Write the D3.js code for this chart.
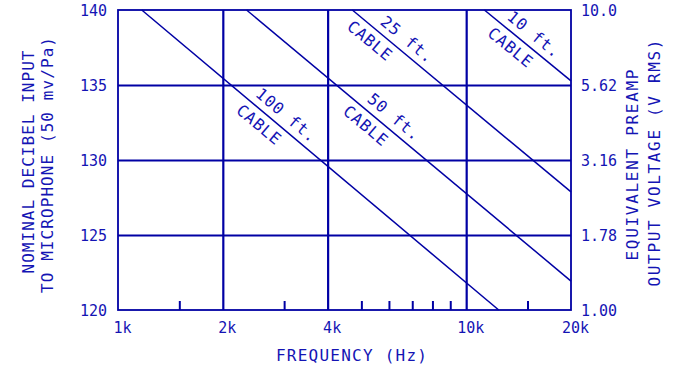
<!DOCTYPE html>
<html>
<head>
<meta charset="utf-8">
<script src="https://cdn.jsdelivr.net/npm/d3@7/dist/d3.min.js"></script>
<style>
  html, body { margin: 0; padding: 0; background: #fff; }
  svg text { font-family: "DejaVu Sans Mono", monospace; fill: #1414b4; }
</style>
</head>
<body>
<div id="chart"></div>
<script>
// Frequency axis (Hz)
const freqTicks = [1000, 2000, 4000, 10000, 20000];
const freqTickLabels = ["1k", "2k", "4k", "10k", "20k"];
const freqMinorTicks = [1500, 3000, 5000, 6000, 7000, 8000, 9000, 15000];

// Left axis: nominal dB input
const dbTicks = [120, 125, 130, 135, 140];
// Right axis: equivalent preamp output voltage (V RMS)
const voltTicks = [1.00, 1.78, 3.16, 5.62, 10.0];
const voltTickLabels = ["1.00", "1.78", "3.16", "5.62", "10.0"];

// Cable curves: [frequency Hz, dB] end points on a log-frequency grid
const cableNames = ["10 ft.", "25 ft.", "50 ft.", "100 ft."];
const cable10 = [[11280, 140], [20000, 135.27]];
const cable25 = [[4710, 140], [20000, 127.87]];
const cable50 = [[2340, 140], [20000, 121.93]];
const cable100 = [[1170, 140], [12400, 120]];
const cableSeries = [cable10, cable25, cable50, cable100];

// Where each curve's label sits along the curve (Hz): [length label, "CABLE"]
const labelAnchors = [[14870, 14130], [6430, 5580], [5890, 5430], [2890, 2680]];

const W = 679, H = 367;
const m = { left: 118, right: 108, top: 10, bottom: 57 };
const iw = W - m.left - m.right, ih = H - m.top - m.bottom;
const gridColor = "#0000a4", curveColor = "#0000a4", textColor = "#1414b4";

const svg = d3.select("#chart").append("svg")
  .attr("width", W).attr("height", H);
const g = svg.append("g").attr("transform", `translate(${m.left},${m.top})`);

const x = d3.scaleLog().domain([1000, 20000]).range([0, iw]);
const y = d3.scaleLinear().domain([120, 140]).range([ih, 0]);
const yv = d3.scaleLog().domain([1, 10]).range([ih, 0]);

// Grid lines
g.append("g").attr("class", "xgrid")
  .attr("transform", `translate(0,${ih})`)
  .call(d3.axisBottom(x).tickValues(freqTicks.slice(1, -1)).tickSize(-ih).tickFormat(""))
  .call(s => s.select(".domain").remove())
  .call(s => s.selectAll("line").attr("stroke", gridColor).attr("stroke-width", 2.2));
g.append("g").attr("class", "ygrid")
  .call(d3.axisLeft(y).tickValues(dbTicks.slice(1, -1)).tickSize(-iw).tickFormat(""))
  .call(s => s.select(".domain").remove())
  .call(s => s.selectAll("line").attr("stroke", gridColor).attr("stroke-width", 2.2));

// Minor frequency ticks along the bottom edge
g.append("g").attr("class", "xminor")
  .attr("transform", `translate(0,${ih})`)
  .call(d3.axisBottom(x).tickValues(freqMinorTicks).tickSize(-9).tickFormat(""))
  .call(s => s.select(".domain").remove())
  .call(s => s.selectAll("line").attr("stroke", gridColor).attr("stroke-width", 2));

// Frame
g.append("rect").attr("width", iw).attr("height", ih)
  .attr("fill", "none").attr("stroke", gridColor).attr("stroke-width", 1.8);

// Tick labels
g.append("g").attr("class", "xaxis")
  .attr("transform", `translate(0,${ih})`)
  .call(d3.axisBottom(x).tickValues(freqTicks).tickSize(0).tickPadding(0)
    .tickFormat((d, i) => freqTickLabels[i]))
  .call(s => s.select(".domain").remove())
  .call(s => s.selectAll("text").attr("font-size", 15).attr("fill", textColor)
    .attr("font-family", "DejaVu Sans Mono").attr("dy", null).attr("y", 23).attr("dx", 4));

g.append("g").attr("class", "yaxis")
  .call(d3.axisLeft(y).tickValues(dbTicks).tickSize(0).tickPadding(11))
  .call(s => s.select(".domain").remove())
  .call(s => s.selectAll("text").attr("font-size", 15).attr("fill", textColor)
    .attr("font-family", "DejaVu Sans Mono").attr("dy", "0.36em"));

g.append("g").attr("class", "vaxis")
  .attr("transform", `translate(${iw},0)`)
  .call(d3.axisRight(yv).tickValues(voltTicks).tickSize(0).tickPadding(0)
    .tickFormat((d, i) => voltTickLabels[i]))
  .call(s => s.select(".domain").remove())
  .call(s => s.selectAll("text").attr("font-size", 15).attr("fill", textColor)
    .attr("font-family", "DejaVu Sans Mono").attr("text-anchor", "middle")
    .attr("x", 28).attr("dy", "0.36em"));

// Cable curves
const line = d3.line().x(d => x(d[0])).y(d => y(d[1]));
g.append("g").attr("class", "curves")
  .selectAll("path").data(cableSeries).join("path")
  .attr("d", line).attr("fill", "none")
  .attr("stroke", curveColor).attr("stroke-width", 1.5);

// Curve labels, laid along each curve
const labels = g.append("g").attr("class", "curve-labels");
cableSeries.forEach((pts, i) => {
  const x0 = x(pts[0][0]), y0 = y(pts[0][1]);
  const x1 = x(pts[1][0]), y1 = y(pts[1][1]);
  const ang = Math.atan2(y1 - y0, x1 - x0) * 180 / Math.PI;
  const texts = [cableNames[i], "CABLE"];
  labelAnchors[i].forEach((f, k) => {
    const px = x(f);
    const py = y0 + (px - x0) / (x1 - x0) * (y1 - y0);
    labels.append("text")
      .attr("transform", `translate(${px},${py}) rotate(${ang})`)
      .attr("y", k === 0 ? -12.5 : 12.5)
      .attr("dominant-baseline", "central")
      .attr("text-anchor", "middle")
      .attr("font-size", 16)
      .attr("letter-spacing", 1)
      .text(texts[k]);
  });
});

// Axis titles
svg.append("text")
  .attr("x", m.left + iw / 2 + 7).attr("y", 361)
  .attr("text-anchor", "middle").attr("font-size", 16)
  .attr("textLength", 151).attr("lengthAdjust", "spacing")
  .text("FREQUENCY (Hz)");

const leftTitle = svg.append("g")
  .attr("transform", `translate(0,${m.top + ih / 2 + 2}) rotate(-90)`);
leftTitle.append("text").attr("x", 0).attr("y", 34)
  .attr("text-anchor", "middle").attr("font-size", 16)
  .attr("textLength", 223).attr("lengthAdjust", "spacing")
  .text("NOMINAL DECIBEL INPUT");
leftTitle.append("text").attr("x", -3).attr("y", 53)
  .attr("text-anchor", "middle").attr("font-size", 16)
  .attr("textLength", 256).attr("lengthAdjust", "spacing")
  .text("TO MICROPHONE (50 mv/Pa)");

const rightTitle = svg.append("g")
  .attr("transform", `translate(0,${m.top + ih / 2 + 4}) rotate(-90)`);
rightTitle.append("text").attr("x", -1).attr("y", 638)
  .attr("text-anchor", "middle").attr("font-size", 16)
  .attr("textLength", 191).attr("lengthAdjust", "spacing")
  .text("EQUIVALENT PREAMP");
rightTitle.append("text").attr("x", 1).attr("y", 660)
  .attr("text-anchor", "middle").attr("font-size", 16)
  .attr("textLength", 247).attr("lengthAdjust", "spacing")
  .text("OUTPUT VOLTAGE (V RMS)");
</script>
</body>
</html>
